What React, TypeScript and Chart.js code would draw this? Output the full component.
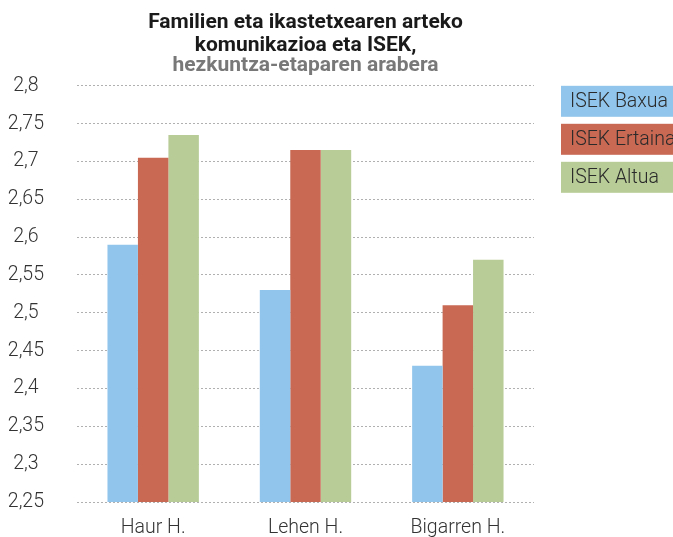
import React, { useEffect, useRef } from 'react';
import { Chart, registerables } from 'chart.js';

Chart.register(...registerables);

const categories = ['Haur H.', 'Lehen H.', 'Bigarren H.'];
const seriesLabels = ['ISEK Baxua', 'ISEK Ertaina', 'ISEK Altua'];
const isekBaxua = [2.59, 2.53, 2.43];
const isekErtaina = [2.705, 2.715, 2.51];
const isekAltua = [2.735, 2.715, 2.57];
const yTicks = [2.25, 2.3, 2.35, 2.4, 2.45, 2.5, 2.55, 2.6, 2.65, 2.7, 2.75, 2.8];
const titleLines = ['Familien eta ikastetxearen arteko', 'komunikazioa eta ISEK,'];
const subtitleText = 'hezkuntza-etaparen arabera';
const seriesColors = ['#92C5EB', '#C96954', '#B7CC96'];

const FONT = 'Roboto, "Liberation Sans", sans-serif';

const boxLegend = {
  id: 'boxLegend',
  afterDraw(chart: any) {
    const { ctx, chartArea } = chart;
    const x = chartArea.right + 27;
    const w = chart.width - x;
    ctx.save();
    chart.data.datasets.forEach((ds: any, i: number) => {
      const y = chartArea.top + i * 38;
      ctx.fillStyle = ds.backgroundColor;
      ctx.fillRect(x, y, w, 31);
      ctx.fillStyle = '#2a2a2a';
      ctx.font = `300 19.5px ${FONT}`;
      ctx.textBaseline = 'middle';
      ctx.textAlign = 'left';
      ctx.fillText(ds.label, x + 9, y + 16);
    });
    ctx.restore();
  },
};

export default function App() {
  const ref = useRef<HTMLCanvasElement>(null);

  useEffect(() => {
    if (!ref.current) return;
    const seriesData = [isekBaxua, isekErtaina, isekAltua];
    const chart = new Chart(ref.current, {
      type: 'bar',
      data: {
        labels: categories,
        datasets: seriesLabels.map((label, i) => ({
          label,
          data: seriesData[i],
          backgroundColor: seriesColors[i],
          borderWidth: 0,
          categoryPercentage: 0.6,
          barPercentage: 1,
        })),
      },
      options: {
        responsive: false,
        animation: false,
        layout: { padding: { left: 0, right: 139, top: 0, bottom: 0 } },
        plugins: {
          legend: { display: false },
          tooltip: { enabled: false },
          title: {
            display: true,
            text: titleLines,
            fullSize: false,
            color: '#1a1a1a',
            font: { family: FONT, size: 21, weight: 'bold', lineHeight: 1.1 },
            padding: { top: 11, bottom: 0 },
          },
          subtitle: {
            display: true,
            text: subtitleText,
            fullSize: false,
            color: '#787878',
            font: { family: FONT, size: 21, weight: 'bold', lineHeight: 1.1 },
            padding: { top: -3, bottom: 8.5 },
          },
        },
        scales: {
          x: {
            grid: { display: false },
            border: { display: false },
            ticks: {
              color: '#333',
              font: { family: FONT, size: 19.5, weight: 300, lineHeight: 1 },
              padding: 8,
            },
            afterFit: (s: any) => { s.height = 35; },
          },
          y: {
            type: 'linear',
            min: 2.25,
            max: 2.8,
            afterBuildTicks: (s: any) => { s.ticks = yTicks.map((value) => ({ value })); },
            afterFit: (s: any) => {
              s.width = 77;
              s.paddingTop = 12;
              s.paddingBottom = 12;
            },
            grid: { color: '#b0b0b0', drawTicks: false, lineWidth: 1 },
            border: { display: false, dash: [2, 2] },
            ticks: {
              crossAlign: 'center',
              padding: 33,
              color: '#333',
              font: { family: FONT, size: 19.5, weight: 300 },
              callback: (v: any) => Number(v).toFixed(2).replace(/0$/, '').replace('.', ','),
            },
          },
        },
      },
      plugins: [boxLegend],
    } as any);
    return () => chart.destroy();
  }, []);

  return (
    <canvas
      ref={ref}
      width={673}
      height={537}
      style={{ position: 'fixed', left: 0, top: 0, display: 'block' }}
    />
  );
}
